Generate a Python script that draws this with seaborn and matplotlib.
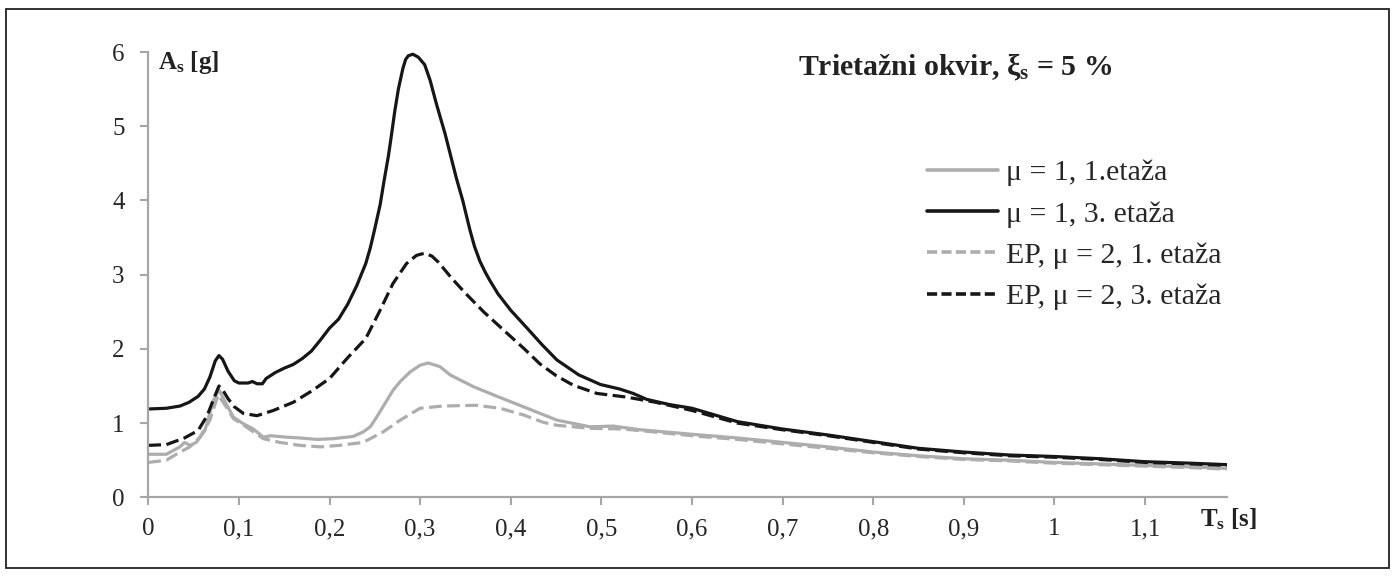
import numpy as np
import pandas as pd
import seaborn as sns
import matplotlib.pyplot as plt
from matplotlib.patches import Rectangle

# --- data (T_s in s, A_s in g) ---
t_mu1_e1 = [0, .02, .035, .04, .046, .053, .0625, .072, .078, .086, .094, .105, .116, .127, .135,
            .153, .167, .186, .204, .226, .237, .245, .252, .262, .27, .278, .289, .3, .309, .322,
            .333, .359, .385, .414, .451, .4875, .513, .543, .609, .65, .7, .75, .8, .85, .9, .95,
            1.0, 1.05, 1.1, 1.15, 1.19]
a_mu1_e1 = [.58, .58, .68, .74, .70, .74, .90, 1.31, 1.45, 1.26, 1.08, .99, .92, .81, .83,
            .81, .80, .78, .79, .82, .88, .95, 1.08, 1.28, 1.44, 1.56, 1.69, 1.78, 1.81, 1.76,
            1.65, 1.49, 1.36, 1.22, 1.04, .95, .96, .91, .84, .80, .74, .68, .61, .56, .52, .50,
            .47, .45, .43, .41, .39]

t_mu1_e3 = [0, .02, .035, .045, .055, .062, .068, .074, .078, .082, .088, .095, .1, .11, .115,
            .12, .126, .13, .14, .15, .16, .17, .18, .19, .2, .21, .22, .23, .24, .245, .25, .256,
            .26, .265, .268, .272, .276, .281, .284, .287, .292, .298, .305, .311, .318, .3275,
            .34, .347, .355, .36, .366, .372, .377, .386, .4, .418, .435, .451, .475, .499, .52,
            .535, .55, .575, .6, .65, .7, .75, .8, .85, .9, .95, 1.0, 1.05, 1.1, 1.15, 1.19]
a_mu1_e3 = [1.19, 1.2, 1.23, 1.28, 1.36, 1.46, 1.62, 1.84, 1.91, 1.86, 1.70, 1.57, 1.54, 1.54, 1.56,
            1.53, 1.53, 1.60, 1.68, 1.74, 1.79, 1.87, 1.97, 2.12, 2.28, 2.40, 2.60, 2.85, 3.15, 3.36, 3.62, 3.95,
            4.25, 4.6, 4.85, 5.2, 5.5, 5.78, 5.9, 5.95, 5.97, 5.93, 5.83, 5.62, 5.3, 4.9,
            4.3, 4.0, 3.6, 3.38, 3.18, 3.03, 2.92, 2.74, 2.52, 2.28, 2.05, 1.85, 1.65, 1.52, 1.46,
            1.40, 1.32, 1.25, 1.20, 1.02, .92, .84, .75, .66, .61, .57, .55, .52, .48, .46, .44]

t_ep_e1 = [0, .02, .035, .046, .057, .068, .077, .086, .094, .108, .127, .145, .167, .19, .211,
           .237, .259, .278, .3, .325, .362, .388, .414, .436, .451, .4875, .524, .55, .609, .65,
           .7, .75, .8, .85, .9, .95, 1.0, 1.05, 1.1, 1.15, 1.19]
a_ep_e1 = [.47, .50, .61, .68, .81, 1.04, 1.38, 1.22, 1.06, .95, .79, .74, .70, .68, .70,
           .74, .88, 1.04, 1.20, 1.23, 1.24, 1.20, 1.11, 1.01, .97, .93, .92, .89, .82, .78,
           .72, .66, .60, .55, .51, .49, .46, .44, .42, .40, .38]

t_ep_e3 = [0, .02, .04, .055, .065, .072, .078, .082, .088, .095, .105, .12, .138, .16, .18, .2,
           .22, .24, .255, .27, .285, .296, .305, .313, .32, .335, .35, .37, .396, .415, .432, .45,
           .469, .495, .528, .56, .6, .65, .7, .75, .8, .85, .9, .95, 1.0, 1.05, 1.1, 1.15, 1.19]
a_ep_e3 = [.70, .71, .80, .90, 1.10, 1.32, 1.50, 1.45, 1.33, 1.22, 1.13, 1.10, 1.17, 1.28, 1.43, 1.60,
           1.88, 2.14, 2.50, 2.88, 3.15, 3.26, 3.29, 3.25, 3.17, 2.95, 2.75, 2.50, 2.21, 2.0, 1.80, 1.64,
           1.51, 1.40, 1.35, 1.28, 1.17, 1.0, .91, .83, .74, .65, .60, .56, .54, .51, .47, .45, .43]

labels = ["μ = 1, 1.etaža", "μ = 1, 3. etaža", "EP, μ = 2, 1. etaža", "EP, μ = 2, 3. etaža"]
series = [(t_mu1_e1, a_mu1_e1), (t_mu1_e3, a_mu1_e3), (t_ep_e1, a_ep_e1), (t_ep_e3, a_ep_e3)]

df = pd.concat([pd.DataFrame({"T": t, "A": a, "serija": lab})
                for lab, (t, a) in zip(labels, series)], ignore_index=True)

sns.set_theme(style="white")
plt.rcParams["font.family"] = ["Liberation Serif", "DejaVu Serif"]
plt.rcParams["mathtext.fontset"] = "custom"
plt.rcParams["mathtext.rm"] = "Liberation Serif"
plt.rcParams["mathtext.bf"] = "Liberation Serif:bold"
plt.rcParams["mathtext.default"] = "regular"

grey = "#adadad"
black = "#161616"

fig = plt.figure(figsize=(13.96, 5.76), dpi=100)
ax = fig.add_axes([0.1062, 0.1366, 0.8787 - 0.1062, 0.9097 - 0.1366])

sns.lineplot(data=df, x="T", y="A", hue="serija", style="serija",
             hue_order=labels, style_order=labels,
             palette=[grey, black, grey, black],
             dashes=["", "", (4, 1.7), (4, 1.7)],
             linewidth=2.3, estimator=None, sort=False, ax=ax)

ax.set_xlim(0, 1.19)
ax.set_ylim(0, 6)
ax.set_xticks(np.arange(0, 1.15, 0.1))
ax.set_xticklabels(["0", "0,1", "0,2", "0,3", "0,4", "0,5", "0,6", "0,7", "0,8", "0,9", "1", "1,1"])
ax.set_yticks(range(0, 7))
ax.set_xlabel("")
ax.set_ylabel("")

for s in ["top", "right"]:
    ax.spines[s].set_visible(False)
for s in ["left", "bottom"]:
    ax.spines[s].set_color("#a6a6a6")
    ax.spines[s].set_linewidth(1.6)
ax.tick_params(axis="both", direction="out", length=6, width=1.5, color="#a6a6a6",
               labelsize=18, labelcolor="#262626")
ax.tick_params(axis="x", pad=9, bottom=True)
ax.tick_params(axis="y", pad=11, left=True)

ax.text(0.011, 5.86, r"A$_\mathbf{s}$ [g]", fontsize=18, fontweight="bold",
        ha="left", va="center", color="#222222")
ax.text(1.161, -0.3, r"T$_\mathbf{s}$ [s]", fontsize=18, fontweight="bold",
        ha="left", va="center", color="#222222", clip_on=False)
ax.text(0.89, 5.79, r"Trietažni okvir, $\xi_\mathbf{s}$ = 5 %", fontsize=21.5,
        fontweight="bold", ha="center", va="center", color="#222222")

handles, labs = ax.get_legend_handles_labels()
for h in handles:
    h.set_linewidth(2.6)
    if h.get_linestyle() != "-":
        h.set_dashes((2.8, 1.2))
ax.legend(handles, labs, loc="upper left", bbox_to_anchor=(0.664, 0.723),
          bbox_transform=fig.transFigure, frameon=False, fontsize=21.5,
          handlelength=2.37, handletextpad=0.27, labelspacing=0.48,
          borderpad=0, borderaxespad=0)

fig.patches.append(Rectangle((0.0043, 0.0139), 0.991, 0.970, transform=fig.transFigure,
                             fill=False, edgecolor="#222222", linewidth=1.3))

fig.savefig("out.png", dpi=100)
